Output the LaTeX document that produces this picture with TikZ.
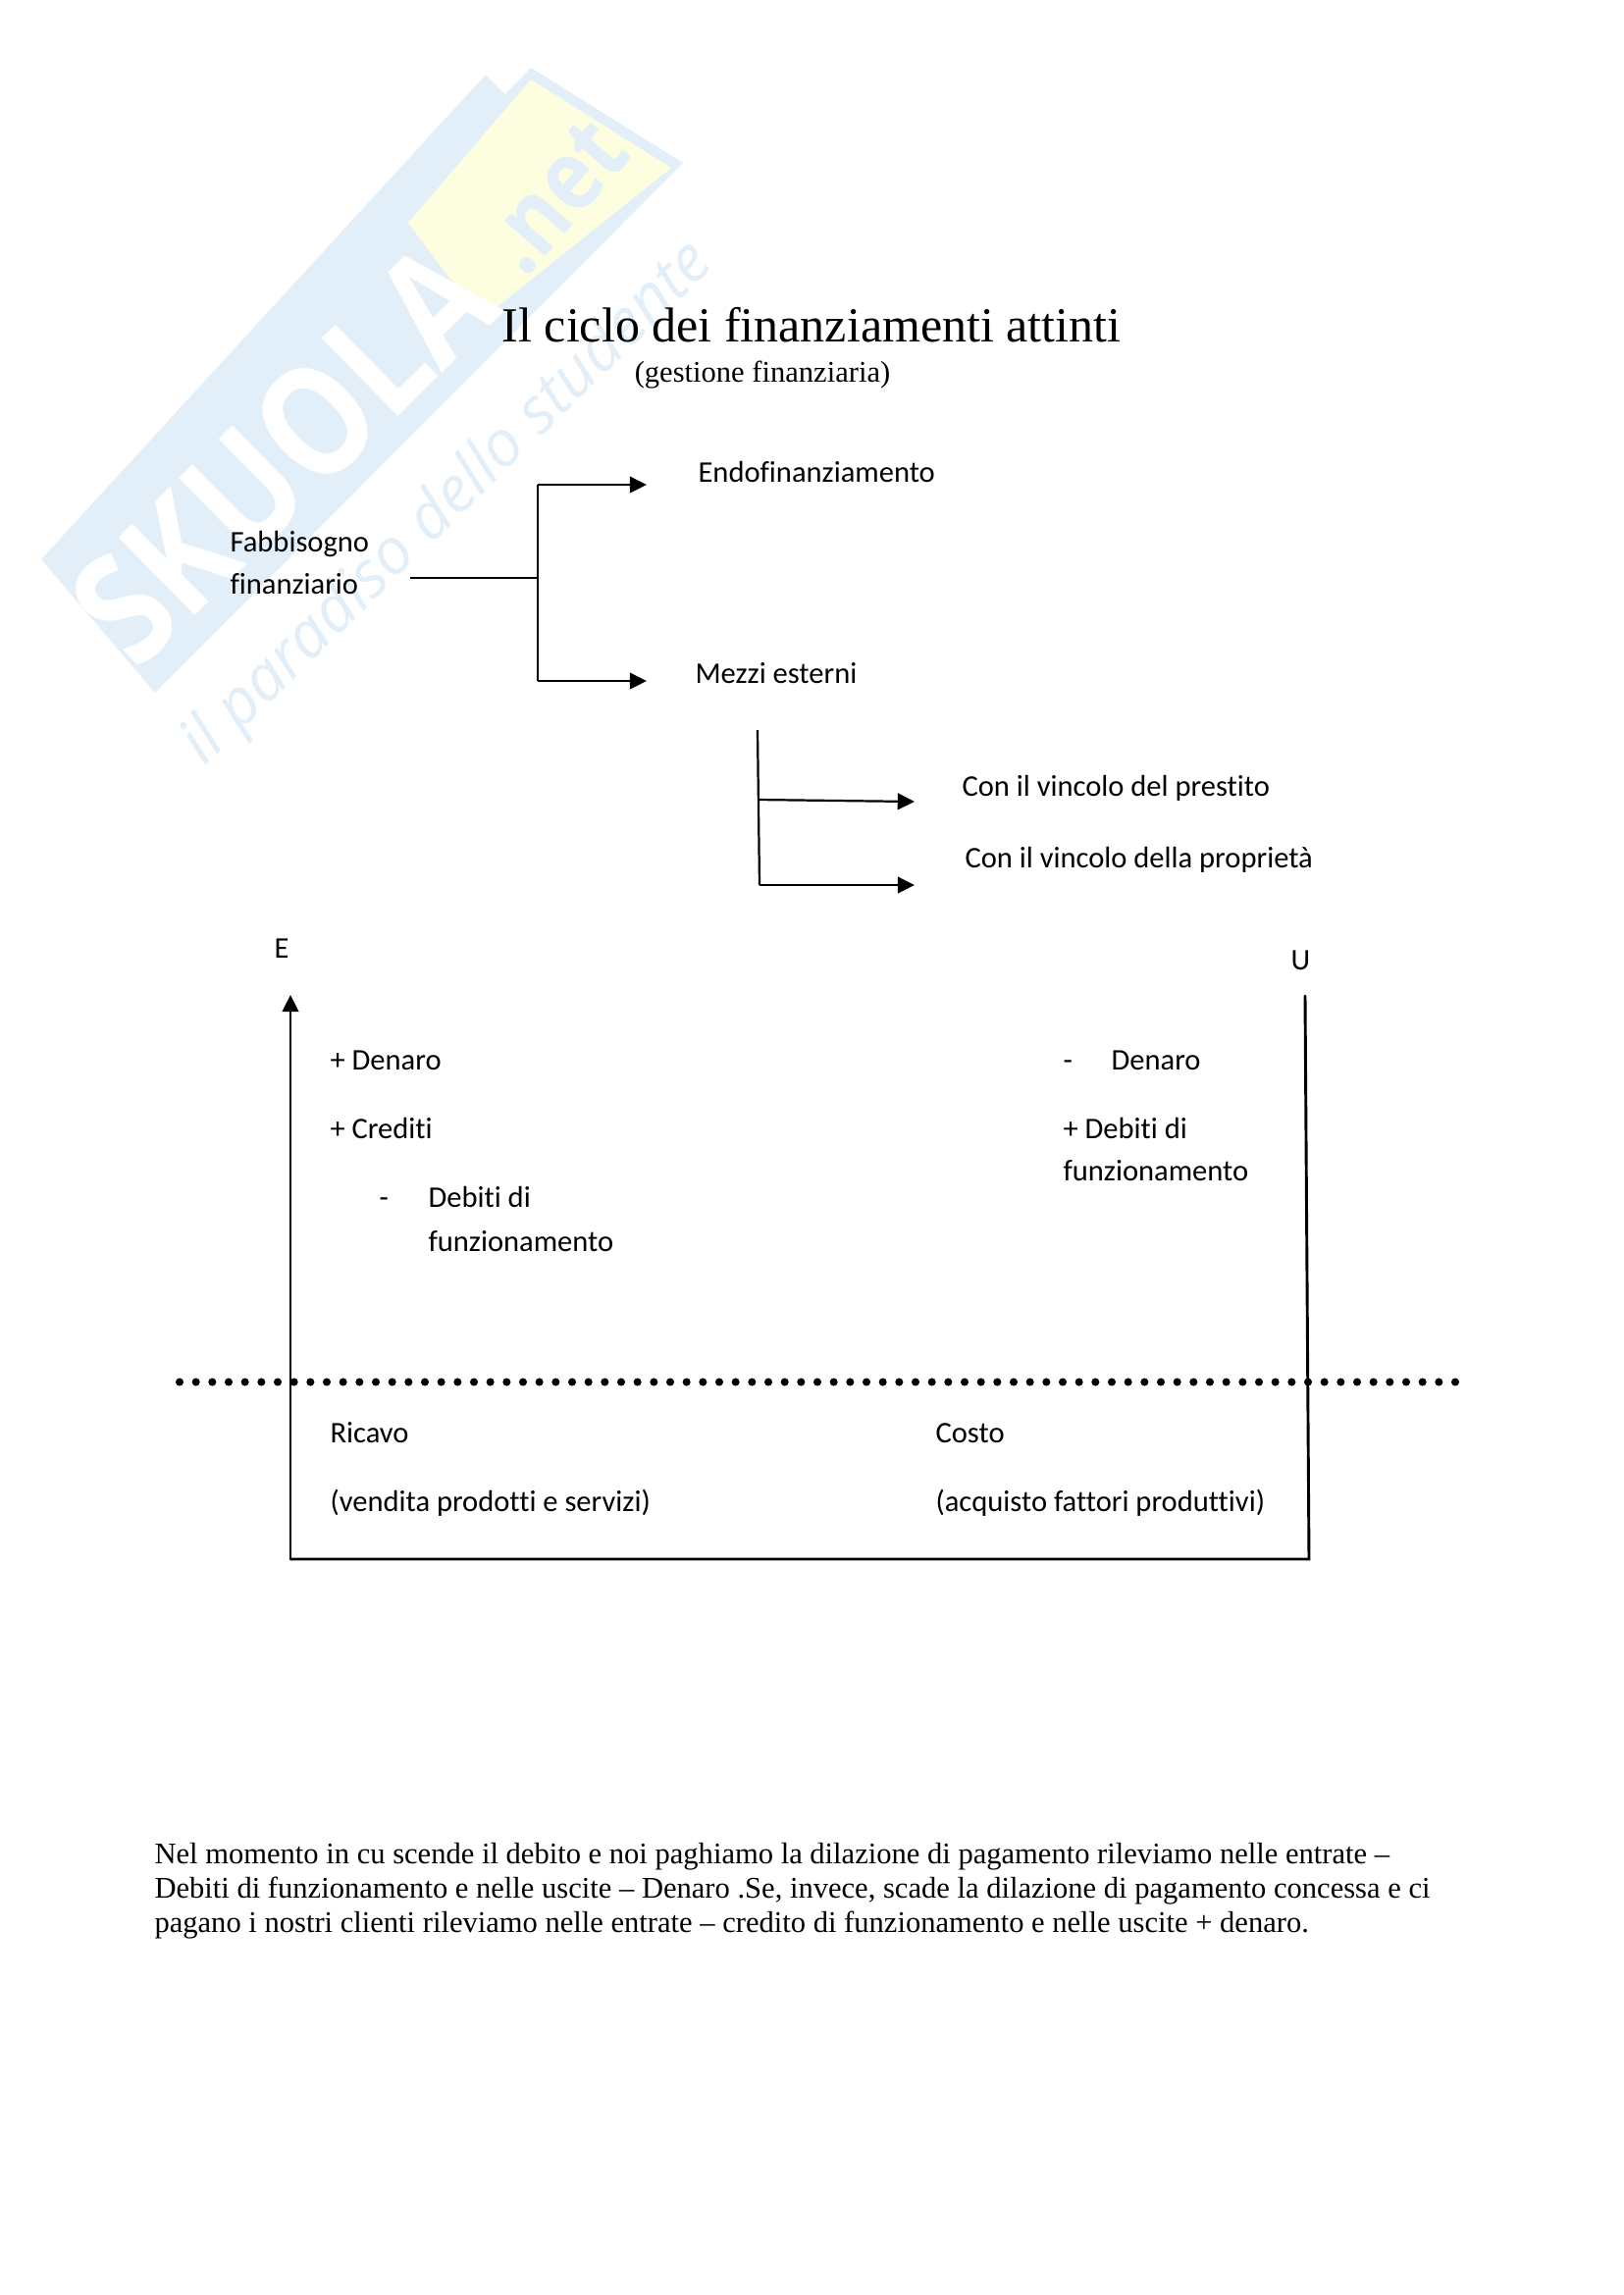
\documentclass[tikz,border=0pt]{standalone}
\usepackage{fontspec}
\setmainfont{Liberation Serif}
\newfontfamily\calibrifont[Ligatures=NoCommon]{Carlito}
\newfontfamily\wmfont{Open Sans}
\usetikzlibrary{arrows.meta}
\definecolor{wmblue}{HTML}{E2EFF9}
\definecolor{wmyellow}{HTML}{FDFDE0}
\definecolor{wmtext}{HTML}{E2EFF9}
\begin{document}
\begin{tikzpicture}[x=0.36pt,y=-0.36pt,
  lab/.style={font=\calibrifont\fontsize{11}{15}\selectfont,anchor=base west,inner sep=0pt,align=left},
  ser/.style={inner sep=0pt,anchor=base},
  conn/.style={draw=black,line width=0.8pt},
  arr/.style={conn,-{Triangle[length=6.2pt,width=6pt]}},
  heavy/.style={draw=black,line width=1.05pt},
  wm/.style={inner sep=0pt,transform shape}]
\useasboundingbox (0,0) rectangle (1654,2339);
% watermark
\fill[wmblue] (42,570) -- (495,76) -- (515,96) -- (541,69) -- (696,166) -- (158,706) -- cycle;
\fill[wmyellow] (541,81) -- (684,171) -- (490,326) -- (416,227) -- cycle;
\node[wm,rotate=44.5,text=white,font=\wmfont\bfseries\fontsize{56}{56}\selectfont] (wmA) at (288,462) {\scalebox{0.84}[1]{SKUOLA}};
\node[wm,rotate=49,text=wmtext,font=\wmfont\bfseries\fontsize{36}{36}\selectfont] (wmB) at (566,200) {\scalebox{0.85}[1]{.net}};
\node[wm,rotate=44.5,text=wmtext,font=\wmfont\fontsize{23.5}{24}\selectfont\itshape] (wmC) at (457,514) {il paradiso dello studente};
% titles
\node[ser,font=\fontsize{18}{20}\selectfont] (title) at (827,348) {Il ciclo dei finanziamenti attinti};
\node[ser,font=\fontsize{11}{13}\selectfont] (sub) at (777,389) {(gestione finanziaria)};
% top tree
\node[lab] (endo) at (711,491.5) {Endofinanziamento};
\node[lab] (fab) at (234,562.5) {Fabbisogno};
\node[lab] (fin) at (234,605.5) {finanziario};
\node[lab] (mezzi) at (708,696.5) {Mezzi esterni};
\node[lab] (pres) at (980,811.5) {Con il vincolo del prestito};
\node[lab] (prop) at (983,884.5) {Con il vincolo della proprietà};
\coordinate (a0) at (418,589);
\coordinate (a1) at (548,589);
\coordinate (a2) at (548,494);
\coordinate (a3) at (548,694);
\coordinate (a4) at (659,494);
\coordinate (a5) at (659,694);
\draw[conn] (a0) -- (a1);
\draw[conn] (a2) -- (a3);
\draw[arr] (a2) -- (a4);
\draw[arr] (a3) -- (a5);
\coordinate (b0) at (772,744);
\coordinate (b1) at (774,902);
\coordinate (b2) at (773,815);
\coordinate (b3) at (932,817);
\coordinate (b4) at (932,902);
\draw[conn] (b0) -- (b1);
\draw[arr] (b2) -- (b3);
\draw[arr] (b1) -- (b4);
% cycle
\node[lab] (E) at (279,976.5) {E};
\node[lab] (U) at (1315,988.5) {U};
\node[lab] (d1) at (336,1090.5) {+ Denaro};
\node[lab] (c1) at (336,1160.5) {+ Crediti};
\node[lab] (m1) at (386,1230.5) {-};
\node[lab] (d2) at (436,1230.5) {Debiti di};
\node[lab] (f2) at (436,1275.5) {funzionamento};
\node[lab] (m2) at (1083,1090.5) {-};
\node[lab] (d3) at (1132,1090.5) {Denaro};
\node[lab] (d4) at (1083,1160.5) {+ Debiti di};
\node[lab] (f4) at (1083,1203.5) {funzionamento};
\node[lab] (r1) at (336,1470.5) {Ricavo};
\node[lab] (r2) at (336,1540.5) {(vendita prodotti e servizi)};
\node[lab] (k1) at (953,1470.5) {Costo};
\node[lab] (k2) at (953,1540.5) {(acquisto fattori produttivi)};
\coordinate (cA) at (296,1014);
\coordinate (cB) at (296,1589);
\coordinate (cC) at (1334,1589);
\coordinate (cD) at (1330,1015);
\coordinate (dL) at (183,1408.5);
\coordinate (dR) at (1487,1408.5);
\draw[heavy,line cap=round,line join=miter] (cD) -- (cC) -- (cB);
\draw[heavy,-{Triangle[length=6.2pt,width=6pt]}] (cB) -- (cA);
\draw[black,line width=2.9pt,line cap=round,dash pattern=on 0pt off 6pt] (dL) -- (dR);
% paragraph
\node[ser,anchor=base west,font=\fontsize{11}{13}\selectfont] (p1) at (157,1899) {Nel momento in cu scende il debito e noi paghiamo la dilazione di pagamento rileviamo nelle entrate –};
\node[ser,anchor=base west,font=\fontsize{11}{13}\selectfont] (p2) at (157,1934) {Debiti di funzionamento e nelle uscite – Denaro .Se, invece, scade la dilazione di pagamento concessa e ci};
\node[ser,anchor=base west,font=\fontsize{11}{13}\selectfont] (p3) at (157,1969) {pagano i nostri clienti rileviamo nelle entrate – credito di funzionamento e nelle uscite + denaro.};
\end{tikzpicture}
\end{document}
